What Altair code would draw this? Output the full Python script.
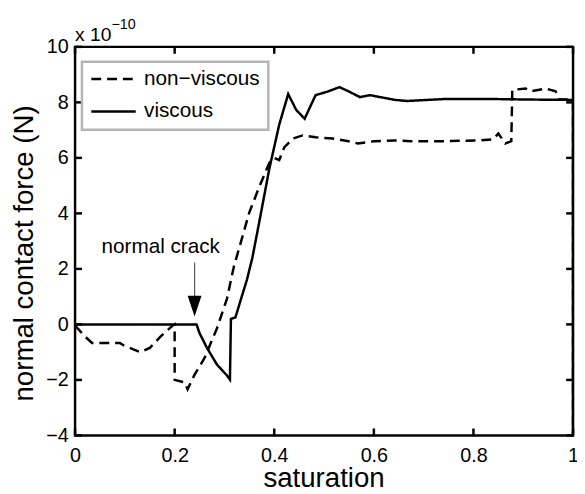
import altair as alt
import pandas as pd

# ---- data ----
series = ["non−viscous", "viscous"]

nonv_x = [0.0, 0.008, 0.018, 0.034, 0.09, 0.1, 0.131, 0.15, 0.172, 0.196, 0.2, 0.2,
          0.22, 0.226, 0.24, 0.26, 0.285, 0.305, 0.319, 0.331, 0.35, 0.37, 0.39, 0.4,
          0.41, 0.42, 0.438, 0.457, 0.483, 0.517, 0.549, 0.568, 0.6, 0.642, 0.675,
          0.741, 0.81, 0.84, 0.85, 0.864, 0.876, 0.878, 0.905, 0.915, 0.945, 0.965,
          0.973, 1.0, 1.0]
nonv_y = [-0.05, -0.2, -0.4, -0.67, -0.67, -0.78, -1.0, -0.85, -0.43, -0.04, 0.0, -2.0,
          -2.09, -2.34, -1.81, -1.21, -0.14, 0.92, 2.09, 2.84, 4.04, 4.96, 5.82, 6.0,
          5.92, 6.38, 6.7, 6.81, 6.74, 6.7, 6.6, 6.52, 6.6, 6.63, 6.6,
          6.6, 6.63, 6.67, 6.88, 6.52, 6.6, 8.45, 8.5, 8.4, 8.5, 8.4,
          8.1, 8.1, -4.5]

visc_x = [0.0, 0.244, 0.25, 0.265, 0.285, 0.305, 0.311, 0.313, 0.322, 0.333, 0.345,
          0.356, 0.37, 0.39, 0.41, 0.428, 0.444, 0.461, 0.483, 0.509, 0.531, 0.549,
          0.572, 0.592, 0.642, 0.667, 0.741, 0.84, 0.92, 0.992, 1.0, 1.0]
visc_y = [0.0, 0.0, -0.32, -0.85, -1.45, -1.84, -1.99, 0.2, 0.25, 0.9, 1.6,
          2.4, 3.7, 5.6, 7.2, 8.3, 7.73, 7.41, 8.26, 8.4, 8.55, 8.4,
          8.19, 8.26, 8.09, 8.05, 8.12, 8.12, 8.1, 8.09, 8.09, -4.5]

xticks = [0, 0.2, 0.4, 0.6, 0.8, 1.0]
yticks = [-4, -2, 0, 2, 4, 6, 8, 10]
x_min, x_max = 0.0, 1.0
y_min, y_max = -4.0, 10.0

ann_text = ["normal crack"]
ann_x = [0.172]
ann_y = [2.77]
arrow_x = [0.24]
arrow_y_top = [2.23]
arrow_y_bot = [0.9]
arrow_head_y = [0.66]

exp_base = ["x 10"]
exp_base_x = [0.0]
exp_base_y = [10.43]
exp_pow = ["−10"]
exp_pow_x = [0.073]
exp_pow_y = [10.78]

# ---- build tables ----
rows = []
for i, (x, y) in enumerate(zip(nonv_x, nonv_y)):
    rows.append({"s": series[0], "x": x, "y": y, "i": i})
for i, (x, y) in enumerate(zip(visc_x, visc_y)):
    rows.append({"s": series[1], "x": x, "y": y, "i": i})
df = pd.DataFrame(rows)

W, H = 505, 394
FONT = "Liberation Sans"

xs = alt.Scale(domain=[x_min, x_max], nice=False, zero=False)
ys = alt.Scale(domain=[y_min, y_max], nice=False, zero=False)

xaxis = alt.Axis(
    values=xticks, format="~g", title="saturation", ticks=False, tickSize=0,
    domain=False, grid=False, labelFontSize=20, labelPadding=10,
    labelColor="black", titleFontSize=28, titleFontWeight="normal",
    titleColor="black", titleX=252, titleY=52, titleAlign="center",
    titleBaseline="alphabetic", labelFlush=False)
yaxis = alt.Axis(
    values=yticks, format="d", title="normal contact force (N)", ticks=False,
    tickSize=0, domain=False, grid=False, labelFontSize=20, labelPadding=7,
    labelColor="black", titleFontSize=28, titleFontWeight="normal",
    titleColor="black", titleAngle=270, titleX=-43, titleY=209,
    titleAlign="center", titleBaseline="alphabetic", labelFlush=False)


def X(field):
    return alt.X(field, scale=xs, axis=xaxis)


def Y(field):
    return alt.Y(field, scale=ys, axis=yaxis)


lines = alt.Chart(df).mark_line(clip=True, color="black", strokeWidth=2.5).encode(
    x=X("x:Q"),
    y=Y("y:Q"),
    strokeDash=alt.StrokeDash("s:N", scale=alt.Scale(domain=series, range=[[10, 6], [1, 0]]),
                              legend=alt.Legend(
                                  title=None, orient="none", legendX=7, legendY=15,
                                  symbolType="stroke", symbolSize=2025,
                                  symbolStrokeWidth=2.5, symbolStrokeColor="black",
                                  labelFontSize=21, labelOffset=7, labelColor="black",
                                  rowPadding=11, clipHeight=19, padding=8,
                                  strokeColor="#b4b4b4", fillColor="white")),
    order="i:Q",
)

# inward tick marks on all four sides of the frame
xt = pd.DataFrame({"t": xticks})
yt = pd.DataFrame({"t": yticks})
tick_style = dict(color="black", strokeWidth=2.5)
TL = 7
tb = alt.Chart(xt).mark_rule(**tick_style).encode(
    x=X("t:Q"), y=alt.value(H), y2=alt.value(H - TL))
tt = alt.Chart(xt).mark_rule(**tick_style).encode(
    x=X("t:Q"), y=alt.value(0), y2=alt.value(TL))
tl = alt.Chart(yt).mark_rule(**tick_style).encode(
    y=Y("t:Q"), x=alt.value(0), x2=alt.value(TL))
tr = alt.Chart(yt).mark_rule(**tick_style).encode(
    y=Y("t:Q"), x=alt.value(W), x2=alt.value(W - TL))

ann = alt.Chart(pd.DataFrame({"x": ann_x, "y": ann_y, "t": ann_text})).mark_text(
    fontSize=21, align="center", baseline="middle", color="black").encode(
    x=X("x:Q"), y=Y("y:Q"), text="t:N")

arrow = alt.Chart(pd.DataFrame({"x": arrow_x, "y": arrow_y_top, "y2": arrow_y_bot})).mark_rule(
    color="#555555", strokeWidth=1.2).encode(
    x=X("x:Q"), y=Y("y:Q"), y2="y2:Q")

head = alt.Chart(pd.DataFrame({"x": arrow_x, "y": arrow_head_y})).mark_point(
    shape="M-0.67,-1L0.67,-1L0,1Z", size=441, filled=True, color="black",
    opacity=1, strokeWidth=0).encode(
    x=X("x:Q"), y=Y("y:Q"))

e1 = alt.Chart(pd.DataFrame({"x": exp_base_x, "y": exp_base_y, "t": exp_base})).mark_text(
    fontSize=19.5, align="left", baseline="middle", color="black").encode(
    x=X("x:Q"), y=Y("y:Q"), text="t:N")
e2 = alt.Chart(pd.DataFrame({"x": exp_pow_x, "y": exp_pow_y, "t": exp_pow})).mark_text(
    fontSize=14.5, align="left", baseline="middle", color="black").encode(
    x=X("x:Q"), y=Y("y:Q"), text="t:N")

chart = alt.layer(lines, tb, tt, tl, tr, arrow, head, ann, e1, e2).properties(
    width=W, height=H,
    padding={"left": 68, "top": 36, "right": 4, "bottom": 56},
    autosize=alt.AutoSizeParams(type="none"),
).configure(font=FONT).configure_view(
    stroke="black", strokeWidth=2.5
).configure_legend(strokeWidth=2.5)

chart.save("out.html", embed_options={"renderer": "svg", "actions": False})
